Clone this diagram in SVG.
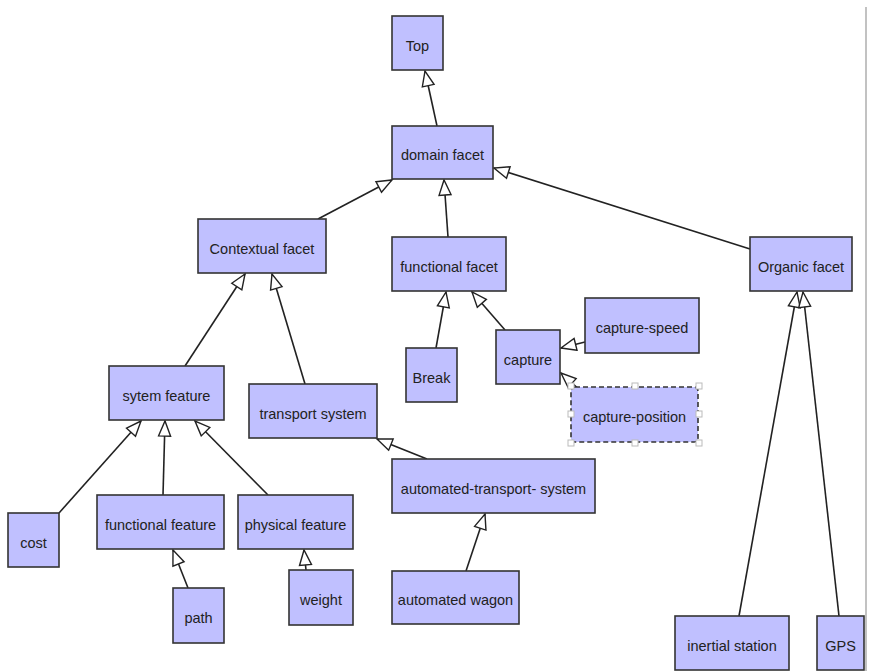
<svg xmlns="http://www.w3.org/2000/svg" width="869" height="671" viewBox="0 0 869 671">
<style>
.n rect{fill:#c0c0ff;stroke:#333;stroke-width:1.6}
.n text{font-family:"Liberation Sans",Arial,sans-serif;font-size:14.5px;fill:#222;text-anchor:middle}
.e line{stroke:#222;stroke-width:1.6;marker-end:url(#tri)}
.n rect.h{fill:#fff;stroke:#bbb;stroke-width:1}
</style>
<defs>
<marker id="tri" markerUnits="userSpaceOnUse" markerWidth="18" markerHeight="14" refX="16" refY="7" orient="auto" overflow="visible">
<path d="M1,1 L16,7 L1,13 Z" fill="#fff" stroke="#222" stroke-width="1.4"/>
</marker>
</defs>
<rect x="0" y="0" width="869" height="671" fill="#fff"/>
<line x1="866" y1="7" x2="866" y2="671" stroke="#999" stroke-width="1.2"/>
<g id="connectors" class="e">
<line x1="437" y1="126" x2="425" y2="71"/>
<line x1="318" y1="219" x2="392" y2="180"/>
<line x1="448" y1="237" x2="444" y2="180"/>
<line x1="750" y1="249" x2="494" y2="168"/>
<line x1="185" y1="366" x2="245" y2="274"/>
<line x1="305" y1="384" x2="272" y2="274"/>
<line x1="436" y1="348" x2="446" y2="292"/>
<line x1="505" y1="330" x2="472" y2="292"/>
<line x1="585" y1="342" x2="561" y2="348"/>
<line x1="582" y1="392" x2="561" y2="373"/>
<line x1="59" y1="513" x2="141" y2="421"/>
<line x1="163" y1="495" x2="165" y2="421"/>
<line x1="268" y1="495" x2="195" y2="421"/>
<line x1="188" y1="588" x2="173" y2="550"/>
<line x1="306" y1="570" x2="304" y2="550"/>
<line x1="427" y1="459" x2="377" y2="439"/>
<line x1="466" y1="571" x2="485" y2="514"/>
<line x1="739" y1="616" x2="797" y2="292"/>
<line x1="839" y1="616" x2="803" y2="292"/>
</g>
<g id="top" class="n"><rect x="392" y="16" width="51" height="54"/><text x="417.5" y="51">Top</text></g>
<g id="domain-facet" class="n"><rect x="392" y="126" width="101" height="53"/><text x="442.5" y="160">domain facet</text></g>
<g id="contextual-facet" class="n"><rect x="198" y="219" width="128" height="54"/><text x="262" y="254">Contextual facet</text></g>
<g id="functional-facet" class="n"><rect x="392" y="237" width="114" height="54"/><text x="449" y="272">functional facet</text></g>
<g id="organic-facet" class="n"><rect x="750" y="237" width="102" height="54"/><text x="801" y="272">Organic facet</text></g>
<g id="capture-speed" class="n"><rect x="585" y="298" width="114" height="55"/><text x="642" y="333">capture-speed</text></g>
<g id="capture" class="n"><rect x="496" y="330" width="64" height="54"/><text x="528" y="365">capture</text></g>
<g id="break" class="n"><rect x="406" y="348" width="51" height="54"/><text x="431.5" y="383">Break</text></g>
<g id="capture-position" class="n"><rect x="571" y="387" width="127" height="55" rx="4" style="stroke-dasharray:5,3"/><text x="634.5" y="422">capture-position</text>
<rect class="h" x="568" y="383" width="6" height="6"/><rect class="h" x="632" y="383" width="6" height="6"/><rect class="h" x="696" y="383" width="6" height="6"/>
<rect class="h" x="568" y="411" width="6" height="6"/><rect class="h" x="696" y="411" width="6" height="6"/>
<rect class="h" x="568" y="440" width="6" height="6"/><rect class="h" x="632" y="440" width="6" height="6"/><rect class="h" x="696" y="440" width="6" height="6"/>
</g>
<g id="sytem-feature" class="n"><rect x="109" y="366" width="115" height="54"/><text x="166.5" y="401">sytem feature</text></g>
<g id="transport-system" class="n"><rect x="249" y="384" width="128" height="54"/><text x="313" y="419">transport system</text></g>
<g id="cost" class="n"><rect x="8" y="513" width="51" height="54"/><text x="33.5" y="548">cost</text></g>
<g id="functional-feature" class="n"><rect x="97" y="495" width="127" height="54"/><text x="160.5" y="530">functional feature</text></g>
<g id="physical-feature" class="n"><rect x="238" y="495" width="115" height="54"/><text x="295.5" y="530">physical feature</text></g>
<g id="path" class="n"><rect x="173" y="588" width="51" height="55"/><text x="198.5" y="623">path</text></g>
<g id="weight" class="n"><rect x="289" y="570" width="64" height="55"/><text x="321" y="605">weight</text></g>
<g id="automated-transport-system" class="n"><rect x="392" y="459" width="203" height="54"/><text x="493.5" y="494">automated-transport- system</text></g>
<g id="automated-wagon" class="n"><rect x="392" y="571" width="127" height="53"/><text x="455.5" y="605">automated wagon</text></g>
<g id="inertial-station" class="n"><rect x="675" y="616" width="114" height="54"/><text x="732" y="651">inertial station</text></g>
<g id="gps" class="n"><rect x="817" y="616" width="47" height="54"/><text x="840.5" y="651">GPS</text></g>
</svg>
